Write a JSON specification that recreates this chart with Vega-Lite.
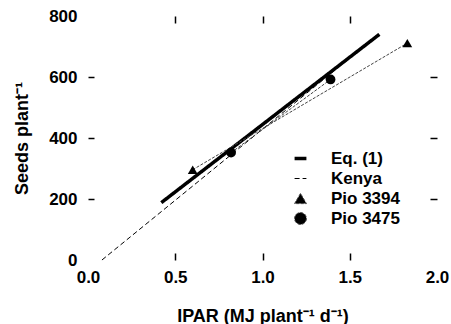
{
  "$schema": "https://vega.github.io/schema/vega-lite/v6.json",
  "width": 349,
  "height": 244,
  "autosize": {"type": "none"},
  "padding": {"left": 88, "top": 16, "right": 14, "bottom": 64},
  "background": "white",
  "config": {
    "view": {"stroke": null},
    "font": "Liberation Sans",
    "axis": {"grid": false, "domain": false, "tickColor": "black", "labelColor": "black", "titleColor": "black"},
    "legend": {
      "title": null,
      "orient": "none",
      "legendX": 204,
      "legendY": 134,
      "padding": 0,
      "symbolSize": 140,
      "labelOffset": 22,
      "rowPadding": 2,
      "labelFontSize": 17,
      "labelFontWeight": "bold",
      "labelColor": "black",
      "symbolFillColor": "black"
    }
  },
  "data": {
    "values": [
      {"series": "Eq. (1)", "ipar": 0.42, "seeds": 188},
      {"series": "Eq. (1)", "ipar": 1.67, "seeds": 740},
      {"series": "Kenya", "ipar": 0.08, "seeds": 0},
      {"series": "Kenya", "ipar": 1.62, "seeds": 718},
      {"series": "Pio 3394", "ipar": 0.60, "seeds": 296},
      {"series": "Pio 3394", "ipar": 1.83, "seeds": 711},
      {"series": "Pio 3475", "ipar": 0.82, "seeds": 352},
      {"series": "Pio 3475", "ipar": 1.39, "seeds": 592}
    ]
  },
  "layer": [
    {
      "mark": {"type": "line"},
      "encoding": {
        "x": {
          "field": "ipar", "type": "quantitative",
          "scale": {"domain": [0, 2], "nice": false, "zero": false},
          "axis": {
            "orient": "bottom",
            "values": [0, 0.5, 1, 1.5, 2],
            "format": ".1f",
            "tickSize": -7,
            "tickWidth": 1.5,
            "tickOpacity": {"condition": {"test": "datum.value == 0 || datum.value == 2", "value": 0}, "value": 1},
            "labelPadding": 16,
            "labelFontSize": 17,
            "labelFontWeight": "bold",
            "labelFlush": false,
            "title": "IPAR (MJ plant⁻¹ d⁻¹)",
            "titleFontSize": 18,
            "titleFontWeight": "bold",
            "titlePadding": 22
          }
        },
        "y": {
          "field": "seeds", "type": "quantitative",
          "scale": {"domain": [0, 800], "nice": false},
          "axis": {
            "orient": "left",
            "values": [0, 200, 400, 600, 800],
            "tickSize": -6,
            "tickWidth": 1.5,
            "tickOpacity": {"condition": {"test": "datum.value == 0 || datum.value == 800", "value": 0}, "value": 1},
            "labelPadding": 17,
            "labelFontSize": 17,
            "labelFontWeight": "bold",
            "labelFlush": false,
            "title": "Seeds plant⁻¹",
            "titleFontSize": 18,
            "titleFontWeight": "bold",
            "titlePadding": 17
          }
        },
        "strokeDash": {
          "field": "series", "type": "nominal",
          "scale": {"domain": ["Eq. (1)", "Kenya", "Pio 3394", "Pio 3475"], "range": [[1, 0], [5, 3], [3, 1.5], [3, 1.5]]}
        },
        "strokeWidth": {
          "field": "series", "type": "nominal",
          "scale": {"type": "ordinal", "domain": ["Eq. (1)", "Kenya", "Pio 3394", "Pio 3475"], "range": [3.5, 1, 1, 1]}
        },
        "color": {
          "field": "series", "type": "nominal",
          "scale": {"domain": ["Eq. (1)", "Kenya", "Pio 3394", "Pio 3475"], "range": ["black", "black", "#444444", "#444444"]}
        }
      }
    },
    {
      "transform": [{"filter": {"field": "series", "oneOf": ["Pio 3394", "Pio 3475"]}}],
      "mark": {"type": "point", "filled": true, "opacity": 1, "color": "black", "size": 95},
      "encoding": {
        "x": {
          "field": "ipar", "type": "quantitative",
          "axis": {"orient": "top", "values": [0.5, 1, 1.5], "labels": false, "tickSize": -7, "tickWidth": 1.5, "title": null}
        },
        "y": {
          "field": "seeds", "type": "quantitative",
          "axis": {"orient": "right", "values": [200, 400, 600], "labels": false, "tickSize": -7, "tickWidth": 1.5, "title": null}
        },
        "shape": {
          "field": "series", "type": "nominal",
          "scale": {"domain": ["Eq. (1)", "Kenya", "Pio 3394", "Pio 3475"], "range": ["stroke", "stroke", "triangle-up", "circle"]}
        }
      }
    }
  ],
  "resolve": {"axis": {"x": "independent", "y": "independent"}}
}
